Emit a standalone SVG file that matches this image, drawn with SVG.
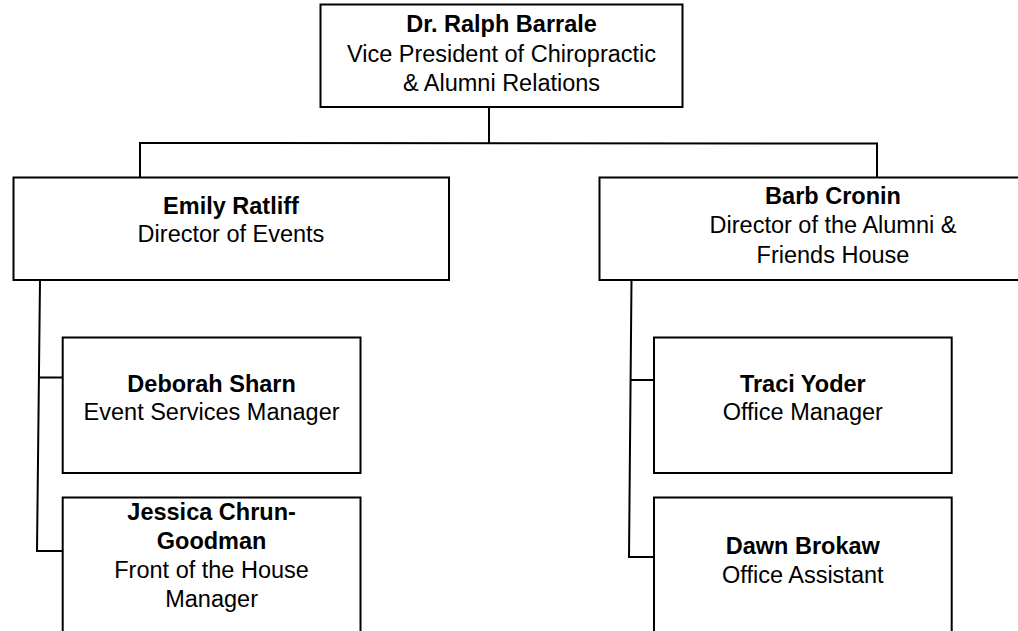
<svg xmlns="http://www.w3.org/2000/svg" width="1018" height="631" viewBox="0 0 1018 631">
  <style>
    .box { fill: #ffffff; stroke: #000000; stroke-width: 2; }
    .conn { fill: none; stroke: #000000; stroke-width: 2; }
    text { font-family: "Liberation Sans", Arial, sans-serif; font-size: 23.5px; fill: #000000; text-anchor: middle; }
    .b { font-weight: bold; }
  </style>
  <rect width="1018" height="631" fill="#ffffff"/>
  <g id="connectors">
    <path class="conn" d="M489,107 L489,143"/>
    <path class="conn" d="M140,177.5 L140,143 L877,143.5 L877,177.5"/>
    <path class="conn" d="M40,280 L37,551 L62.7,551"/>
    <path class="conn" d="M39.5,377.5 L62.7,377.5"/>
    <path class="conn" d="M631.5,280 L629,557 L654,557"/>
    <path class="conn" d="M631,380 L654,380"/>
  </g>
  <g id="node-ralph">
    <rect class="box" x="320.5" y="4.5" width="362" height="102.5"/>
    <text x="501.5" y="32" class="b">Dr. Ralph Barrale</text>
    <text x="501.5" y="62">Vice President of Chiropractic</text>
    <text x="501.5" y="91">&amp; Alumni Relations</text>
  </g>
  <g id="node-emily">
    <rect class="box" x="13.5" y="177.5" width="435.5" height="102.5"/>
    <text x="231" y="214" class="b">Emily Ratliff</text>
    <text x="231" y="242">Director of Events</text>
  </g>
  <g id="node-barb">
    <rect class="box" x="599.5" y="177.5" width="468" height="102.5"/>
    <text x="833" y="204" class="b">Barb Cronin</text>
    <text x="833" y="233">Director of the Alumni &amp;</text>
    <text x="833" y="263">Friends House</text>
  </g>
  <g id="node-deborah">
    <rect class="box" x="62.7" y="337.5" width="297.8" height="135.5"/>
    <text x="211.6" y="391.5" class="b">Deborah Sharn</text>
    <text x="211.6" y="420">Event Services Manager</text>
  </g>
  <g id="node-jessica">
    <rect class="box" x="62.7" y="497.5" width="297.8" height="150"/>
    <text x="211.6" y="520" class="b">Jessica Chrun-</text>
    <text x="211.6" y="548.5" class="b">Goodman</text>
    <text x="211.6" y="577.5">Front of the House</text>
    <text x="211.6" y="606.5">Manager</text>
  </g>
  <g id="node-traci">
    <rect class="box" x="654" y="337.5" width="297.7" height="135.5"/>
    <text x="802.8" y="391.5" class="b">Traci Yoder</text>
    <text x="802.8" y="420">Office Manager</text>
  </g>
  <g id="node-dawn">
    <rect class="box" x="654" y="497.5" width="297.7" height="150"/>
    <text x="802.8" y="553.5" class="b">Dawn Brokaw</text>
    <text x="802.8" y="582.5">Office Assistant</text>
  </g>
</svg>
